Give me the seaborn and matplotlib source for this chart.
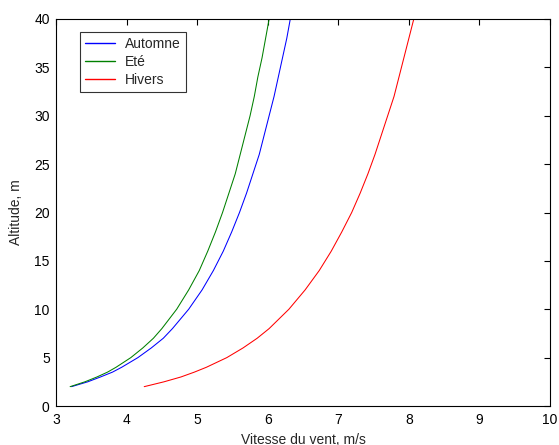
import matplotlib
matplotlib.use("Agg")
import matplotlib.pyplot as plt
import seaborn as sns
import pandas as pd

altitude = [2, 2.5, 3, 3.5, 4, 5, 6, 7, 8, 10, 12, 14, 16, 18, 20, 22, 24, 26, 28, 30, 32, 34, 36, 38, 40]
automne = [3.22, 3.45, 3.63, 3.80, 3.93, 4.16, 4.35, 4.52, 4.65, 4.88, 5.07, 5.23, 5.37, 5.49, 5.60, 5.70,
           5.79, 5.88, 5.95, 6.02, 6.09, 6.15, 6.21, 6.27, 6.32]
ete = [3.20, 3.41, 3.58, 3.73, 3.85, 4.06, 4.23, 4.38, 4.50, 4.71, 4.88, 5.03, 5.15, 5.26, 5.36, 5.45,
       5.54, 5.61, 5.68, 5.75, 5.81, 5.86, 5.92, 5.97, 6.02]
hivers = [4.25, 4.53, 4.77, 4.96, 5.13, 5.42, 5.65, 5.85, 6.02, 6.30, 6.53, 6.73, 6.90, 7.05, 7.19, 7.31,
          7.42, 7.52, 7.61, 7.70, 7.79, 7.86, 7.93, 8.00, 8.07]
series_names = ["Automne", "Eté", "Hivers"]
colors = ["#0000ff", "#008000", "#ff0000"]

rows = []
for name, vals in zip(series_names, [automne, ete, hivers]):
    for h, v in zip(altitude, vals):
        rows.append({"Saison": name, "Vitesse": v, "Altitude": h})
df = pd.DataFrame(rows)

sns.set_style("white")
plt.rcParams["font.family"] = ["Liberation Sans", "DejaVu Sans"]

fig = plt.figure(figsize=(5.59, 4.45), dpi=100)
ax = fig.add_axes([56 / 559, 39 / 445, 494 / 559, 387 / 445])

sns.lineplot(data=df, x="Vitesse", y="Altitude", hue="Saison", palette=colors,
             hue_order=series_names, sort=False, estimator=None, linewidth=0.75,
             legend=False, ax=ax)

ax.set_xlim(3, 10)
ax.set_ylim(0, 40)
ax.set_xticks(range(3, 11))
ax.set_yticks(range(0, 41, 5))
ax.tick_params(direction="in", top=True, right=True, length=4, width=0.8,
               labelsize=10, colors="black")
ax.tick_params(axis="x", pad=5)
ax.tick_params(axis="y", pad=4.5)
for s in ax.spines.values():
    s.set_visible(True)
    s.set_color("black")
    s.set_linewidth(0.8)
ax.set_xlabel("Vitesse du vent, m/s", fontsize=10, labelpad=4)
ax.set_ylabel("Altitude, m", fontsize=10, labelpad=8)

handles = [plt.Line2D([], [], color=c, linewidth=1.0) for c in colors]
leg = ax.legend(handles, series_names, loc="upper left",
                bbox_to_anchor=((80 - 56) / 494, (406 - 32) / 387),
                borderaxespad=0, fontsize=10, frameon=True, fancybox=False,
                handlelength=2.2, handletextpad=0.7, labelspacing=0.28, borderpad=0.35)
leg.get_frame().set_edgecolor("black")
leg.get_frame().set_linewidth(0.8)

fig.savefig("out.png", dpi=100)
